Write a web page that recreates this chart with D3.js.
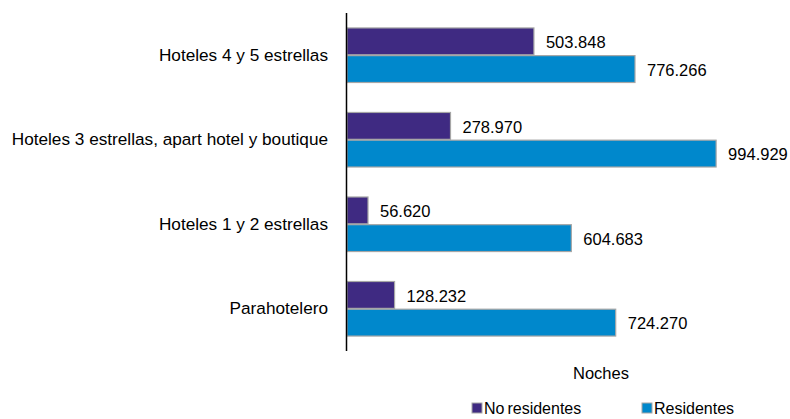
<!DOCTYPE html>
<html>
<head>
<meta charset="utf-8">
<script src="https://cdn.jsdelivr.net/npm/d3@7"></script>
<style>
  body { margin: 0; background: #fff; }
  svg { font-family: "Liberation Sans", Arial, sans-serif; }
</style>
</head>
<body>
<svg id="chart" width="790" height="419"></svg>
<script>
const svg = d3.select('#chart');

// data
const categories = ['Hoteles 4 y 5 estrellas', 'Hoteles 3 estrellas, apart hotel y boutique', 'Hoteles 1 y 2 estrellas', 'Parahotelero'];
const seriesNames = ['No residentes', 'Residentes'];
const noResidentes = [503848, 278970, 56620, 128232];
const residentes = [776266, 994929, 604683, 724270];
const colors = ['#3f2a82', '#0088cc'];

const fmt = v => d3.format(',')(v).replace(/,/g, '.');

const rows = categories.map((c, i) => ({ cat: c, values: [noResidentes[i], residentes[i]] }));

// layout
const x0 = 347, y0 = 13, y1 = 351;

const xScale = d3.scaleLinear()
    .domain([0, 1000000])
    .range([x0, x0 + 371]);

const yScale = d3.scaleBand()
    .domain(categories)
    .range([y0, y1])
    .paddingInner(0.335)
    .paddingOuter(0.167);

const inner = d3.scaleBand()
    .domain([0, 1])
    .range([0, yScale.bandwidth()])
    .padding(0.03);

// bars
const groups = svg.selectAll('g.grp')
    .data(rows)
    .enter()
    .append('g')
    .attr('class', 'grp')
    .attr('transform', d => 'translate(0,' + yScale(d.cat) + ')');

groups.selectAll('rect')
    .data(d => d.values.map((v, j) => ({ v, j })))
    .enter()
    .append('rect')
    .attr('x', xScale(0))
    .attr('y', d => inner(d.j))
    .attr('width', d => xScale(d.v) - xScale(0))
    .attr('height', inner.bandwidth())
    .attr('fill', d => colors[d.j])
    .attr('stroke', '#a6a6a6')
    .attr('stroke-width', 1.2);

// value labels
groups.selectAll('text.val')
    .data(d => d.values.map((v, j) => ({ v, j })))
    .enter()
    .append('text')
    .attr('class', 'val')
    .attr('x', d => xScale(d.v) + 12)
    .attr('y', d => inner(d.j) + inner.bandwidth() / 2 + 1)
    .attr('dy', '0.35em')
    .style('font-size', '16.5px')
    .style('fill', '#000')
    .text(d => fmt(d.v));

// y axis (line only + category labels)
const yAxis = svg.append('g')
    .attr('transform', 'translate(' + x0 + ',0)')
    .call(d3.axisLeft(yScale).tickSize(0).tickPadding(19));
yAxis.select('.domain')
    .attr('d', 'M-0.5,' + y0 + 'V' + y1)
    .attr('stroke', '#000')
    .attr('stroke-width', 1.5);
yAxis.selectAll('text')
    .style('font-size', '17.2px')
    .style('font-family', '"Liberation Sans", Arial, sans-serif')
    .style('fill', '#000');

// axis title
svg.append('text')
    .attr('x', 601)
    .attr('y', 379)
    .style('text-anchor', 'middle')
    .style('font-size', '16.5px')
    .text('Noches');

// legend
const legendX = [472, 642];
const legend = svg.selectAll('g.leg')
    .data(seriesNames)
    .enter()
    .append('g')
    .attr('class', 'leg')
    .attr('transform', (d, i) => 'translate(' + legendX[i] + ',403)');

legend.append('rect')
    .attr('width', 10)
    .attr('height', 10)
    .attr('fill', (d, i) => colors[i])
    .attr('stroke', '#a6a6a6')
    .attr('stroke-width', 1);

legend.append('text')
    .attr('x', 12)
    .attr('y', 11)
    .style('font-size', '16px')
    .style('word-spacing', '-1.5px')
    .text(d => d);
</script>
</body>
</html>
